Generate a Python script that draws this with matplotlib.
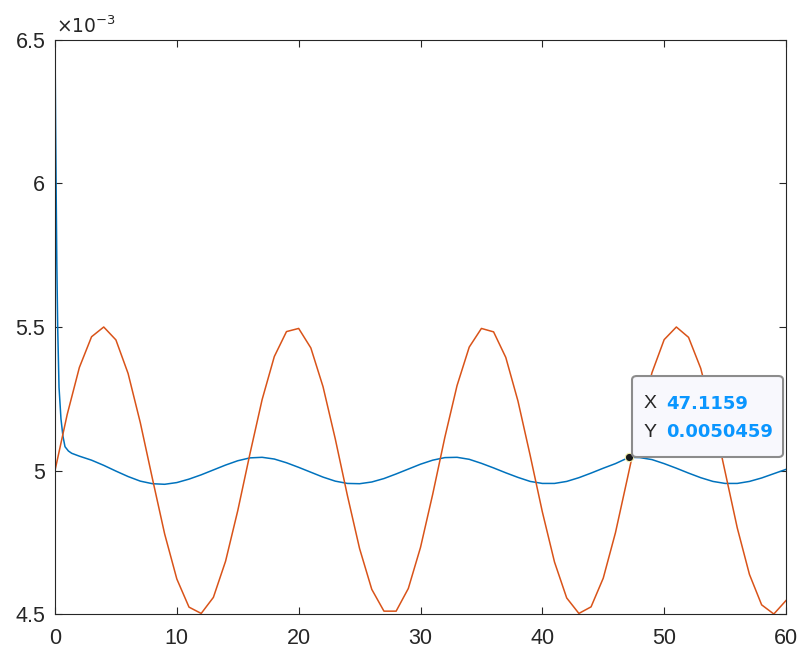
import matplotlib
matplotlib.use('Agg')
import matplotlib.pyplot as plt
from matplotlib.patches import FancyBboxPatch
from matplotlib.ticker import FuncFormatter, MultipleLocator

plt.rcParams['font.family'] = ['Liberation Sans', 'DejaVu Sans']

# values, y in units of 1e-3
blue_t = [0, 0.05, 0.1, 0.15, 0.22, 0.33, 0.49, 0.65, 0.82, 1.1, 1.37, 2, 3, 4, 5, 6, 7, 8, 9, 10,
          11, 12, 13, 14, 15, 16, 17, 18, 19, 20, 21, 22, 23, 24, 25, 26, 27, 28, 29, 30,
          31, 32, 33, 34, 35, 36, 37, 38, 39, 40, 41, 42, 43, 44, 45, 46, 47.1159, 48, 49, 50,
          51, 52, 53, 54, 55, 56, 57, 58, 59, 60]
blue_y = [6.50, 6.20, 5.95, 5.72, 5.50, 5.29, 5.18, 5.12, 5.083, 5.068, 5.060, 5.050, 5.036, 5.018, 4.998, 4.979, 4.963, 4.954, 4.952, 4.958,
          4.970, 4.985, 5.002, 5.019, 5.034, 5.044, 5.046, 5.040, 5.027, 5.011, 4.994, 4.977, 4.963, 4.955, 4.954, 4.960, 4.972, 4.988, 5.005, 5.022,
          5.036, 5.045, 5.046, 5.039, 5.025, 5.009, 4.992, 4.976, 4.962, 4.955, 4.955, 4.962, 4.975, 4.991, 5.008, 5.024, 5.0459, 5.045, 5.038, 5.024,
          5.008, 4.991, 4.975, 4.962, 4.955, 4.955, 4.962, 4.974, 4.989, 5.004]

orange_t = list(range(0, 61))
orange_y = [5.000, 5.195, 5.359, 5.466, 5.500, 5.455, 5.338, 5.167, 4.971, 4.779,
            4.622, 4.524, 4.502, 4.558, 4.684, 4.860, 5.058, 5.247, 5.397, 5.484,
            5.495, 5.427, 5.292, 5.111, 4.913, 4.728, 4.586, 4.510, 4.510, 4.589,
            4.732, 4.917, 5.116, 5.296, 5.430, 5.495, 5.483, 5.394, 5.242, 5.053,
            4.856, 4.681, 4.556, 4.502, 4.525, 4.625, 4.783, 4.976, 5.172, 5.341,
            5.456, 5.500, 5.464, 5.356, 5.191, 4.996, 4.800, 4.638, 4.532, 4.500,
            4.547]

tip_x = 47.1159
tip_y = 0.0050459

grey = '#262626'
tipblue = '#0a96ff'

fig = plt.figure(figsize=(8, 6.51), dpi=100)
ax = fig.add_axes([0.06875, 0.0568, 0.91375, 0.8818])

ax.plot(blue_t, blue_y, color='#0072BD', lw=1.1)
ax.plot(orange_t, orange_y, color='#D95319', lw=1.1)

ax.set_xlim(0, 60)
ax.set_ylim(4.5, 6.5)
ax.xaxis.set_major_locator(MultipleLocator(10))
ax.yaxis.set_major_locator(MultipleLocator(0.5))
ax.yaxis.set_major_formatter(FuncFormatter(lambda v, p: '%g' % v))
ax.tick_params(direction='in', length=5, width=0.8, colors=grey, labelsize=15.5,
               top=True, right=True)
ax.tick_params(axis='x', pad=10)
ax.tick_params(axis='y', pad=7)
for s in ax.spines.values():
    s.set_color(grey)
    s.set_linewidth(0.8)

# exponent label like matlab
ax.text(0.002, 1.006, r'$\times10^{-3}$', transform=ax.transAxes, fontsize=13.5,
        color=grey, ha='left', va='bottom')

# data tip
ax.plot([tip_x], [tip_y * 1000], 'o', ms=6, mfc='#1a1a1a', mec='#f5f0b0', mew=0.8,
        zorder=6, clip_on=False)
box = FancyBboxPatch((0.79, 0.298), 0.1888, 0.1244, transform=fig.transFigure,
                     boxstyle='round,pad=0,rounding_size=0.006',
                     fc='#f8f8fd', ec='#8c8c8c', lw=1.5, zorder=5)
fig.patches.append(box)
fig.text(0.805, 0.3795, 'X', fontsize=14, color=grey, va='center', zorder=7)
fig.text(0.8325, 0.3795, '%.4f' % tip_x, fontsize=13, color=tipblue,
         family='DejaVu Sans', fontweight='bold', va='center', zorder=7)
fig.text(0.805, 0.336, 'Y', fontsize=14, color=grey, va='center', zorder=7)
fig.text(0.8325, 0.336, '%.7f' % tip_y, fontsize=13, color=tipblue,
         family='DejaVu Sans', fontweight='bold', va='center', zorder=7)

fig.savefig('out.png', dpi=100)
